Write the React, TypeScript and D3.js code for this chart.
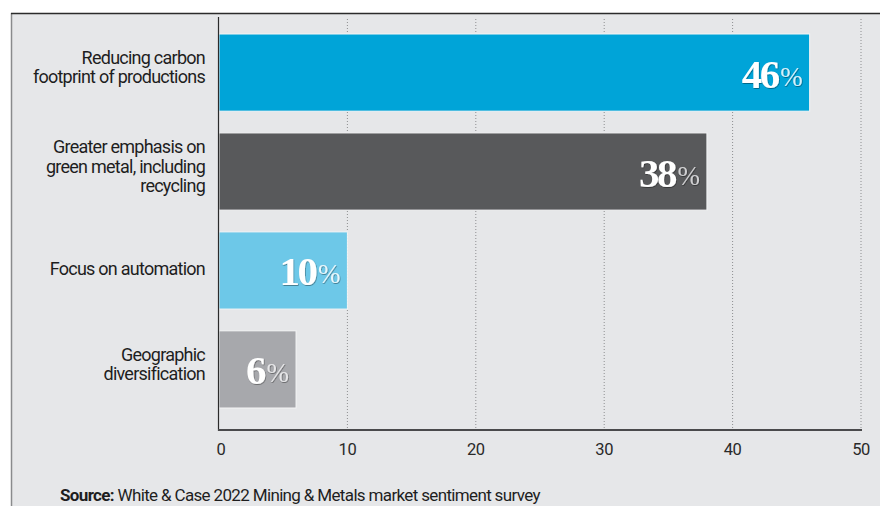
import React from "react";
import * as d3 from "d3";

const categories = [
  ["Reducing carbon", "footprint of productions"],
  ["Greater emphasis on", "green metal, including", "recycling"],
  ["Focus on automation"],
  ["Geographic", "diversification"],
];
const values = [46, 38, 10, 6];
const colors = ["#00a4d8", "#58595b", "#6dc8e8", "#a7a8ac"];
const pctColors = ["#d6f0fa", "#d0d0d2", "#e8f7fc", "#e6e6e8"];
const ticks = [0, 10, 20, 30, 40, 50];

const W = 880;
const H = 506;
const sans = "'Liberation Sans Narrow', 'Arial Narrow', Roboto, sans-serif";
const serif = "'Liberation Serif', 'Times New Roman', serif";

export default function App() {
  const x = d3.scaleLinear().domain([0, 50]).range([219, 861]);
  const y = d3
    .scaleBand<number>()
    .domain(d3.range(values.length))
    .range([34, 408])
    .paddingInner(0.22)
    .paddingOuter(0);
  const bw = y.bandwidth();
  const lineH = 19.5;

  return (
    <svg
      width={W}
      height={H}
      style={{ position: "absolute", left: 0, top: 0, display: "block" }}
    >
      <defs>
        <filter id="ts" x="-20%" y="-20%" width="140%" height="140%">
          <feDropShadow dx="0.6" dy="0.8" stdDeviation="0.6" floodColor="#000" floodOpacity="0.45" />
        </filter>
      </defs>
      <rect x={0} y={0} width={W} height={H} fill="#ffffff" />
      <rect x={11} y={13} width={W - 11} height={H - 13} fill="#e6e7e9" />
      <line x1={11.5} y1={13} x2={11.5} y2={H} stroke="#8a8b8d" strokeWidth={1.5} />
      <line x1={11} y1={13.5} x2={W} y2={13.5} stroke="#2b2b2b" strokeWidth={1.5} />

      {/* gridlines */}
      {ticks.slice(1).map((t) => (
        <line
          key={"g" + t}
          x1={x(t)}
          x2={x(t)}
          y1={19}
          y2={430}
          stroke="#8d8e90"
          strokeWidth={1}
          strokeDasharray="1,2"
        />
      ))}

      {/* bars */}
      {values.map((v, i) => (
        <rect
          key={"b" + i}
          x={x(0)}
          y={y(i)!}
          width={x(v) - x(0)}
          height={bw}
          fill={colors[i]}
          stroke="#f4f5f6"
          strokeWidth={1}
        />
      ))}

      {/* axes */}
      <line x1={218.5} x2={218.5} y1={17} y2={431} stroke="#2b2b2b" strokeWidth={1.2} />
      <line x1={218} x2={862} y1={430} y2={430} stroke="#4a4a4c" strokeWidth={2} />

      {/* tick labels */}
      {ticks.map((t) => (
        <text
          key={"t" + t}
          x={x(t) + (t === 0 ? 2 : 0)}
          y={455}
          textAnchor="middle"
          fontFamily={sans}
          fontSize={16.5}
          fill="#2a2a2a"
          letterSpacing={-0.4}
        >
          {t}
        </text>
      ))}

      {/* category labels */}
      {categories.map((lines, i) => {
        const cy = y(i)! + bw / 2 - (lines.length > 1 ? 5 : 1);
        const top = cy - ((lines.length - 1) * lineH) / 2;
        return (
          <text
            key={"c" + i}
            textAnchor="end"
            fontFamily={sans}
            fontSize={18}
            fill="#1e1e1e"
            letterSpacing={-0.75}
          >
            {lines.map((l, j) => (
              <tspan key={j} x={205} y={top + j * lineH + 6}>
                {l}
              </tspan>
            ))}
          </text>
        );
      })}

      {/* value labels */}
      {values.map((v, i) => (
        <text
          key={"v" + i}
          x={x(v) - 7}
          y={y(i)! + bw / 2 + 15}
          textAnchor="end"
          fontFamily={serif}
          filter="url(#ts)"
        >
          <tspan fontSize={41} fontWeight="bold" fill="#ffffff" letterSpacing={-2.5}>
            {v}
          </tspan>
          <tspan fontSize={27} fill={pctColors[i]} dx={2.5} dy={-2}>
            %
          </tspan>
        </text>
      ))}

      {/* source */}
      <text x={60} y={501} fontFamily={sans} fontSize={17} fill="#1e1e1e" letterSpacing={-0.65}>
        <tspan fontWeight="bold">Source:</tspan>
        <tspan> White &amp; Case 2022 Mining &amp; Metals market sentiment survey</tspan>
      </text>
    </svg>
  );
}
